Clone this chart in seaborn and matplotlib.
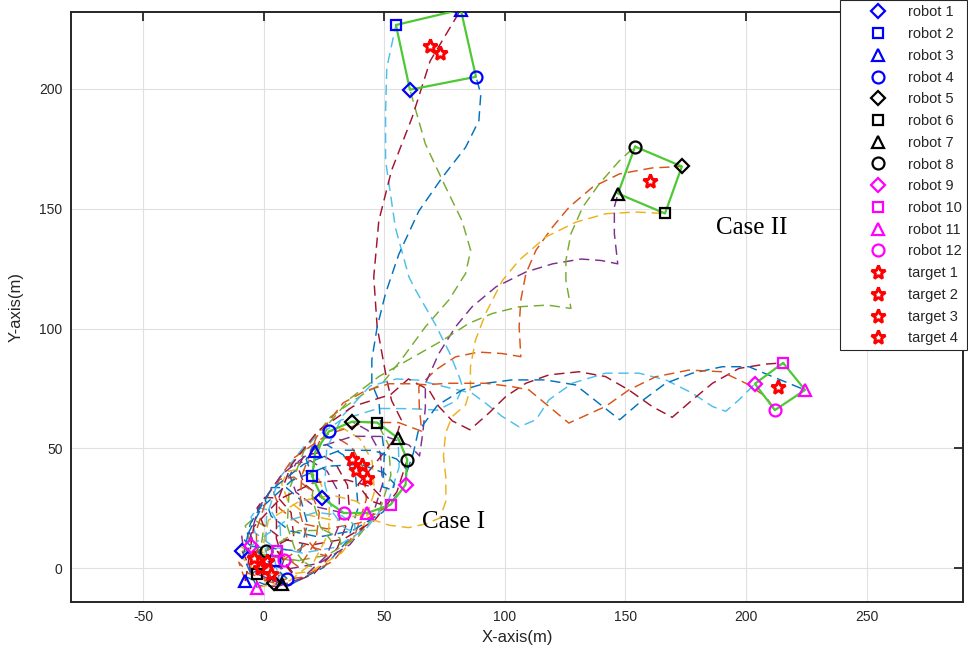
import numpy as np
import pandas as pd
import matplotlib
matplotlib.use("Agg")
import matplotlib.pyplot as plt
import seaborn as sns

# MATLAB default line colours
ML_BLUE = '#0072BD'
ML_ORANGE = '#D95319'
ML_YELLOW = '#EDB120'
ML_PURPLE = '#7E2F8E'
ML_GREEN = '#77AC30'
ML_CYAN = '#4DBEEE'
ML_DARKRED = '#A2142F'
FORM_GREEN = '#4dc933'

# robot start positions (shared by both cases)
start_x = [-9.0, 4.6, -7.6, 9.7, 4.1, -2.8, 7.6, 0.7, -5.5, 5.5, -2.8, 8.3]
start_y = [7.2, 3.2, -5.3, -4.3, -6.0, -2.5, -6.6, 7.2, 9.2, 7.2, -8.0, 3.6]

# final positions, case I (ring)
case1_end_x = [24.2, 20.0, 21.4, 27.0, 36.6, 47.0, 55.7, 59.5, 58.8, 52.6, 42.9, 33.2]
case1_end_y = [29.4, 38.4, 48.8, 57.1, 61.2, 60.8, 54.3, 45.3, 34.9, 26.6, 23.1, 23.1]

# final positions, case II (three squares)
case2_end_x = [60.6, 54.8, 81.7, 88.0, 173.4, 166.4, 146.9, 154.0, 203.7, 215.4, 224.5, 212.0]
case2_end_y = [199.6, 226.6, 233.0, 205.0, 167.6, 148.0, 156.3, 175.9, 77.0, 85.7, 74.4, 66.0]

# targets: start, case I end, case II end
target_start_x = [-4.1, 1.4, -1.4, 2.8]
target_start_y = [4.4, 3.0, 0.2, -2.5]
target_case1_x = [36.5, 40.7, 38.2, 42.7]
target_case1_y = [45.7, 43.2, 41.2, 37.8]
target_case2_x = [68.9, 73.0, 160.2, 213.3]
target_case2_y = [217.9, 215.0, 161.7, 75.7]

robot_markers = ['D', 's', '^', 'o'] * 3
robot_colors = ['blue'] * 4 + ['black'] * 4 + ['magenta'] * 4
robot_sizes = {'D': 6.8, 's': 7.2, '^': 8.6, 'o': 8.6}

case1_colors = [ML_DARKRED, ML_BLUE, ML_ORANGE, ML_YELLOW, ML_PURPLE, ML_GREEN,
                ML_CYAN, ML_DARKRED, ML_BLUE, ML_ORANGE, ML_YELLOW, ML_PURPLE]
case2_colors = [ML_GREEN, ML_CYAN, ML_DARKRED, ML_BLUE, ML_ORANGE, ML_YELLOW,
                ML_PURPLE, ML_GREEN, ML_CYAN, ML_DARKRED, ML_BLUE, ML_ORANGE]

# trajectories, case I
case1_r1 = [(-9.0, 7.2), (-2.0, -7.3), (8.6, -7.5), (20.8, -2.2), (30.5, 8.5), (35.7, 21.9), (34.7, 34.7),
            (29.6, 44.0), (22.7, 48.2), (16.7, 47.2), (14.2, 42.1), (16.7, 35.2), (24.2, 29.4)]
case1_r2 = [(4.6, 3.2), (-7.6, -3.5), (0.3, -6.7), (12.3, -6.1), (24.8, 0.4), (34.8, 11.6), (39.1, 25.3),
            (38.1, 38.1), (33.0, 47.3), (26.1, 51.6), (20.1, 50.6), (17.6, 45.5), (20.0, 38.4)]
case1_r3 = [(-7.6, -5.3), (-10.4, 2.6), (-6.5, -2.0), (3.0, -5.3), (15.9, -3.7), (28.9, 3.1), (38.2, 15.0),
            (42.5, 28.7), (41.5, 41.4), (36.4, 50.7), (29.5, 55.0), (23.5, 54.0), (21.4, 48.8)]
case1_r4 = [(9.7, -4.3), (-9.8, 9.3), (-10.0, 5.5), (-4.6, 0.0), (6.1, -2.9), (19.5, -1.3), (32.3, 6.5),
            (41.6, 18.4), (45.9, 32.0), (44.9, 44.8), (39.8, 54.1), (32.9, 58.4), (27.0, 57.1)]
case1_r5 = [(4.1, -6.0), (-6.0, 14.9), (-9.2, 13.8), (-8.5, 8.5), (-2.0, 2.8), (9.2, -0.4), (22.9, 2.1),
            (35.7, 9.9), (45.0, 21.7), (49.3, 35.4), (48.3, 48.2), (43.2, 57.5), (36.6, 61.2)]
case1_r6 = [(-2.8, -2.5), (0.1, 17.7), (-4.5, 20.6), (-7.7, 17.8), (-6.1, 11.7), (0.7, 5.5), (12.6, 3.0),
            (26.3, 5.5), (39.1, 13.2), (48.4, 25.1), (52.7, 38.8), (51.7, 51.6), (47.0, 60.8)]
case1_r7 = [(7.6, -6.6), (6.8, 17.1), (3.0, 24.1), (-2.4, 25.4), (-5.3, 21.5), (-3.7, 14.9), (4.1, 8.9),
            (16.0, 6.4), (29.7, 8.8), (42.5, 16.6), (51.8, 28.5), (56.1, 42.2), (55.7, 54.3)]
case1_r8 = [(0.7, 7.2), (12.4, 13.3), (11.3, 23.3), (6.1, 29.3), (0.4, 29.6), (-2.8, 25.2), (-0.3, 18.3),
            (7.5, 12.3), (19.4, 9.7), (33.1, 12.2), (45.9, 20.0), (55.2, 31.9), (59.5, 45.3)]
case1_r9 = [(-5.5, 9.2), (15.2, 7.2), (18.1, 18.6), (15.4, 28.5), (9.3, 33.7), (3.1, 33.7), (0.6, 28.6),
            (3.1, 21.7), (10.9, 15.6), (22.8, 13.1), (36.5, 15.6), (49.3, 23.4), (58.8, 34.9)]
case1_r10 = [(5.5, 7.2), (14.6, 0.5), (21.6, 11.1), (23.0, 23.2), (19.1, 32.9), (12.5, 38.1), (6.5, 37.1),
             (4.0, 32.0), (6.5, 25.0), (14.3, 19.0), (26.2, 16.5), (39.9, 19.0), (52.6, 26.6)]
case1_r11 = [(-2.8, -8.0), (10.8, -5.1), (20.8, 2.8), (26.9, 14.7), (27.2, 27.2), (22.8, 37.2), (15.9, 41.5),
             (9.9, 40.5), (7.4, 35.3), (9.9, 28.4), (17.7, 22.4), (29.6, 19.9), (42.9, 23.1)]
case1_r12 = [(8.3, 3.6), (4.7, -7.9), (16.1, -4.0), (26.1, 5.4), (31.3, 18.3), (31.3, 31.3), (26.2, 40.6),
             (19.3, 44.9), (13.3, 43.8), (10.8, 38.7), (13.3, 31.8), (21.1, 25.8), (33.2, 23.1)]

# trajectories, case II
case2_r1 = [(-9.0, 7.2), (16.4, 2.9), (19.7, 0.8), (17.7, 1.2), (13.3, 6.8), (9.7, 17.6), (10.5, 32.8),
            (16.6, 48.9), (27.7, 63.2), (42.3, 73.4), (49, 77), (57, 87), (67, 100.7), (76.8, 112),
            (83.7, 123), (85.8, 132.6), (82.2, 145), (75.4, 159), (67, 177), (60.6, 199.6)]
case2_r2 = [(4.6, 3.2), (6.5, -5.5), (3.9, -1.9), (0.8, 7.3), (1.1, 21.4), (6.2, 37.3), (17.3, 51.6),
            (31.9, 61.8), (47.4, 66.7), (61.1, 66.6), (72, 66), (80, 70), (82.5, 75.5), (81, 80), (77, 90),
            (71, 102), (63, 116), (60.2, 121.5), (54.6, 142), (50.5, 170), (50.5, 190), (51, 208.7),
            (54.8, 226.6)]
case2_r3 = [(-7.6, -5.3), (-4.2, 17.3), (6.6, 28.9), (20.8, 35.8), (34.4, 36.9), (44.7, 34.0), (49.0, 29.5),
            (48.3, 26.8), (44.1, 28.2), (39.0, 34.9), (48, 46), (55, 55), (57, 62), (53, 70), (51, 78.6),
            (47, 100.8), (45.6, 121.5), (47.7, 145), (53, 166), (61.5, 188), (69, 211.6), (81.7, 233)]
case2_r4 = [(9.7, -4.3), (-8.0, 11.7), (-0.9, 25.4), (11.5, 36.6), (26.3, 42.6), (40.3, 43.4), (49.9, 39.8),
            (54.2, 35.3), (53.5, 32.6), (49.3, 34.0), (50, 48), (48.5, 60), (47.7, 70), (44.8, 77),
            (44.8, 87), (47, 100.6), (50.5, 114.7), (56, 131), (64.3, 149), (74, 163), (83.7, 175.6),
            (89.2, 186.7), (90, 197.8), (88, 205)]
case2_r5 = [(4.1, -6.0), (-0.2, -4.9), (-2.9, 2.8), (-3.1, 15.8), (1.9, 31.2), (12.1, 45.8), (26.7, 56.0),
            (42.2, 60.9), (55.9, 60.8), (65.5, 57.2), (64.5, 67), (64.3, 75.8), (71.2, 82.7), (79.5, 88.2),
            (89.1, 90.2), (98.8, 89.6), (106.6, 88.3), (105.9, 100.8), (106.6, 111.9), (108.7, 122.9),
            (112.9, 132.7), (119.8, 142.4), (126.7, 150.7), (136.4, 159), (147.5, 164.5), (161.2, 167),
            (173.4, 167.6)]
case2_r6 = [(-2.8, -2.5), (1.9, 20.1), (14.9, 28.1), (28.4, 30.5), (38.5, 28.0), (43.8, 23.7), (43.1, 21.0),
            (52, 18), (60, 17), (67, 18.5), (73, 21), (75.5, 28), (75.5, 38), (74.5, 47), (75.4, 56.4),
            (78.1, 63.3), (83.7, 68.2), (85.7, 75), (85.7, 84), (87.8, 95.2), (92, 106.3), (99, 120.1),
            (105.9, 128.5), (117, 138.2), (129.5, 144.4), (141.9, 147.9), (154.4, 148.6), (166.4, 148)]
case2_r7 = [(7.6, -6.6), (-5.8, -1.1), (-6.4, 10.3), (-2.3, 25.1), (7.6, 39.3), (21.5, 50.2), (37.0, 55.1),
            (50.7, 55.0), (60.3, 51.4), (64.6, 46.9), (66, 57), (67, 67), (67, 77), (72.6, 89.6),
            (79.5, 100.7), (86.4, 109.1), (96.3, 117.4), (108.7, 123.6), (119.8, 127), (131.6, 129),
            (139.9, 128.4), (146.8, 127), (145.4, 139.6), (145.4, 150.7), (146.9, 156.3)]
case2_r8 = [(0.7, 7.2), (14.2, 15.7), (25.2, 15.9), (31.5, 12.7), (32.0, 10.1), (28.5, 10.8), (23.4, 17.5),
            (20.1, 29.2), (20.9, 44.4), (27.0, 60.5), (36, 71), (47.7, 80), (60, 87), (74, 95),
            (85.1, 102.2), (94.8, 106.3), (105.9, 109.1), (117.7, 109.8), (127.4, 108.4), (125.3, 120.1),
            (125.3, 128.5), (127.4, 139.6), (132.3, 150.7), (139.2, 160.4), (147.5, 170), (154, 175.9)]
case2_r9 = [(-5.5, 9.2), (8.6, 19.5), (21.7, 23.4), (32.3, 22.0), (37.7, 18.2), (37.9, 15.2), (33.7, 16.6),
            (28.6, 23.3), (25.3, 35.0), (26.1, 50.2), (33, 64), (44, 76), (55, 79), (64, 78.5), (74, 76),
            (86.4, 73), (92, 68.9), (98.8, 63.4), (105.9, 59), (112.9, 62), (118.3, 70.3), (127.9, 77.2),
            (141.7, 81.4), (155.6, 81.4), (166.7, 78.6), (177.7, 73.1), (186.1, 67.5), (191.6, 65.5),
            (197.1, 70.3), (201.2, 74.4), (203.7, 77)]
case2_r10 = [(5.5, 7.2), (12.6, -2.7), (12.2, -2.7), (8.4, 2.0), (5.2, 12.5), (5.3, 27.0), (11.4, 43.1),
             (22.5, 57.4), (37.1, 67.6), (52.6, 72.5), (60, 79), (68.5, 74.4), (72.6, 67.5), (78.2, 61.5),
             (85.5, 57.8), (93.4, 64.8), (100.4, 71.7), (108.7, 77.2), (118.3, 80.7), (130.7, 82),
             (141.7, 80), (151.4, 74.4), (161.1, 67.5), (169.4, 63), (177.8, 70.3), (186.1, 77.2),
             (197.1, 83.4), (208.2, 85.2), (215.4, 85.7)]
case2_r11 = [(-2.8, -8.0), (-8.6, 5.0), (-5.6, 18.6), (3.0, 32.7), (16.5, 43.4), (31.8, 49.3), (45.5, 49.2),
             (55.1, 45.6), (59.4, 41.1), (58.7, 38.4), (62, 48), (64, 57), (72, 68), (82.3, 74.4), (92, 77.2),
             (103, 78.6), (116.8, 78.6), (129.3, 76.5), (138.9, 68.9), (147.6, 62), (155.6, 68.9),
             (166.7, 77.2), (177.7, 81.4), (190.2, 84.1), (201.2, 84.1), (210.9, 80), (224.5, 74.4)]
case2_r12 = [(8.3, 3.6), (17.0, 9.6), (24.4, 7.6), (26.2, 5.1), (23.1, 6.0), (18.2, 11.7), (14.9, 23.4),
             (15.7, 38.6), (21.8, 54.7), (32.9, 69.0), (42, 74), (52, 77), (60, 77), (67.1, 76.6),
             (76.8, 77.2), (92, 77.2), (103, 75.8), (110, 74.4), (118.3, 67.5), (126.5, 60.6), (141.7, 67.5),
             (151.4, 74.4), (162.5, 79.9), (176.3, 82.7), (190, 82), (199.9, 77.2), (208.2, 71.7), (212, 66)]

case1_paths = [case1_r1, case1_r2, case1_r3, case1_r4, case1_r5, case1_r6,
               case1_r7, case1_r8, case1_r9, case1_r10, case1_r11, case1_r12]
case2_paths = [case2_r1, case2_r2, case2_r3, case2_r4, case2_r5, case2_r6,
               case2_r7, case2_r8, case2_r9, case2_r10, case2_r11, case2_r12]

# long table for seaborn
rows = []
palette = {}
for case, paths, cols in [('I', case1_paths, case1_colors), ('II', case2_paths, case2_colors)]:
    for i, pts in enumerate(paths):
        key = f'{case}-{i + 1}'
        palette[key] = cols[i]
        for step, (x, y) in enumerate(pts):
            rows.append({'path': key, 'step': step, 'x': x, 'y': y})
traj = pd.DataFrame(rows)

sns.set_theme(style='whitegrid')
plt.rcParams['font.family'] = ['Liberation Sans', 'DejaVu Sans']
plt.rcParams['axes.unicode_minus'] = False

fig = plt.figure(figsize=(9.68, 6.61), dpi=100)
ax = fig.add_axes([0.0733, 0.0893, 0.9215, 0.8925])
ax.set_facecolor('white')

sns.lineplot(data=traj, x='x', y='y', hue='path', hue_order=list(palette.keys()), palette=palette,
             sort=False, estimator=None, legend=False, linewidth=1.05, linestyle=(0, (7, 4)), ax=ax, zorder=2)

# formation polygons
ring = list(range(12)) + [0]
ax.plot([case1_end_x[i] for i in ring], [case1_end_y[i] for i in ring], color=FORM_GREEN, lw=1.6, zorder=3)
for grp in ([1, 2, 3, 0, 1], [7, 4, 5, 6, 7], [9, 10, 11, 8, 9]):
    ax.plot([case2_end_x[i] for i in grp], [case2_end_y[i] for i in grp], color=FORM_GREEN, lw=1.6, zorder=3)

handles = []
for i in range(12):
    m = robot_markers[i]
    h, = ax.plot([start_x[i], case1_end_x[i], case2_end_x[i]],
                 [start_y[i], case1_end_y[i], case2_end_y[i]],
                 ls='none', marker=m, ms=robot_sizes[m], mfc='none', mec=robot_colors[i], mew=1.6,
                 zorder=5, label=f'robot {i + 1}')
    handles.append(h)
for k in range(4):
    h, = ax.plot([target_start_x[k], target_case1_x[k], target_case2_x[k]],
                 [target_start_y[k], target_case1_y[k], target_case2_y[k]],
                 ls='none', marker='*', ms=10.5, mfc='none', mec='red', mew=2.1,
                 zorder=6, label=f'target {k + 1}')
    handles.append(h)

ax.text(65.6, 19.5, 'Case I', fontsize=18, family='Liberation Serif', va='center', ha='left', color='black')
ax.text(187.6, 141.8, 'Case II', fontsize=18, family='Liberation Serif', va='center', ha='left', color='black')

ax.set_xlim(-80, 290)
ax.set_ylim(-14, 232)
ax.set_xticks([-50, 0, 50, 100, 150, 200, 250])
ax.set_yticks([0, 50, 100, 150, 200])
ax.set_xlabel('X-axis(m)', fontsize=12, color='#262626', labelpad=4)
ax.set_ylabel('Y-axis(m)', fontsize=12, color='#262626', labelpad=11)
ax.grid(True, color='#e0e0e0', lw=0.8)
ax.set_axisbelow(True)
ax.tick_params(direction='in', length=6.5, width=1.3, top=True, right=True, labelsize=10,
               colors='#262626', pad=6)
for sp in ax.spines.values():
    sp.set_visible(True)
    sp.set_color('#262626')
    sp.set_linewidth(1.4)

leg = ax.legend(handles=handles, loc='upper right', bbox_to_anchor=(0.9985, 0.9995),
                bbox_transform=fig.transFigure, fontsize=10.5, frameon=True, fancybox=False,
                framealpha=1, edgecolor='#262626', borderpad=0.35, labelspacing=0.53,
                handlelength=4.4, handletextpad=-0.14, borderaxespad=0, numpoints=1)
leg.get_frame().set_linewidth(0.8)
leg.set_zorder(10)

fig.savefig('out.png', dpi=100)
